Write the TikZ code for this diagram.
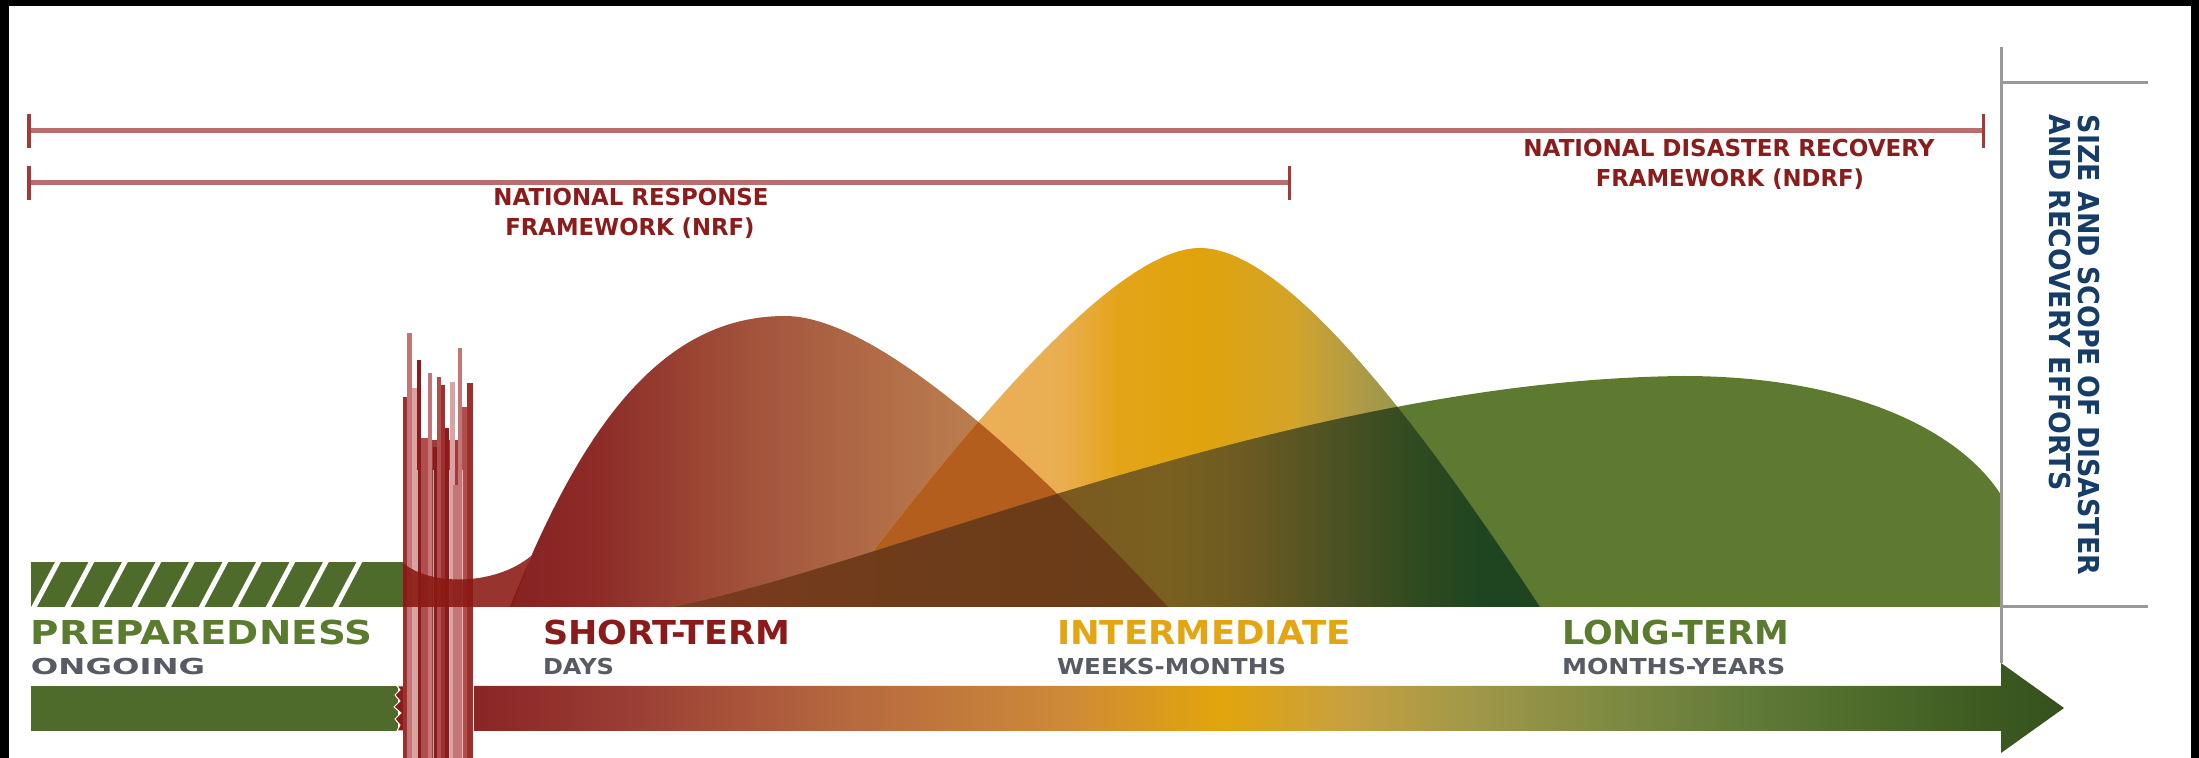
\documentclass[tikz,border=0pt]{standalone}
\usepackage{fontspec}
\usepackage{graphicx}
\setmainfont{DejaVu Sans}
\newcommand{\fitw}[2]{\resizebox{#1}{\height}{#2}}
% colours
\definecolor{hgreen}{HTML}{4E6B2B}
\definecolor{ggreen}{HTML}{5E7A30}
\definecolor{tgreen}{HTML}{5B7B2E}
\definecolor{tgray}{HTML}{575B63}
\definecolor{tred}{HTML}{8B1A1A}
\definecolor{tgold}{HTML}{E3A512}
\definecolor{bred}{HTML}{8B1C1C}
\definecolor{navy}{HTML}{163C68}
\definecolor{bpink}{HTML}{B86E6E}
\definecolor{bdark}{HTML}{A33A3A}
\definecolor{lgray}{HTML}{999999}
\definecolor{dipred}{HTML}{8A1812}
\definecolor{lens}{HTML}{B45E1D}
\definecolor{barA}{HTML}{A33A3A}
\definecolor{barB}{HTML}{9E2F2F}
\definecolor{barL}{HTML}{C47676}
\definecolor{barLL}{HTML}{D9A3A3}
\definecolor{barD}{HTML}{8C1C1C}
\definecolor{barM}{HTML}{B04E4E}
% arrow shading colours
\definecolor{a0}{HTML}{8A2525}
\definecolor{a1}{HTML}{9B3E35}
\definecolor{a2}{HTML}{B5683F}
\definecolor{a3}{HTML}{CE8A38}
\definecolor{a4}{HTML}{E2A50C}
\definecolor{a5}{HTML}{C8A040}
\definecolor{a6}{HTML}{A09848}
\definecolor{a7}{HTML}{7E8A42}
\definecolor{a8}{HTML}{607A38}
\definecolor{a9}{HTML}{4A6828}
\definecolor{a10}{HTML}{3A5820}
\definecolor{a11}{HTML}{36521C}
% red hill
\definecolor{r0}{HTML}{862222}
\definecolor{r1}{HTML}{8E2C28}
\definecolor{r2}{HTML}{9C4634}
\definecolor{r3}{HTML}{A65A40}
\definecolor{r4}{HTML}{B47048}
\definecolor{r5}{HTML}{BC8250}
\definecolor{r6}{HTML}{C49060}
% yellow hill
\definecolor{y0}{HTML}{EDB060}
\definecolor{y1}{HTML}{EAAE52}
\definecolor{y2}{HTML}{E4A418}
\definecolor{y3}{HTML}{E0A30C}
\definecolor{y4}{HTML}{D4A428}
\definecolor{y5}{HTML}{B49C44}
\definecolor{y6}{HTML}{98964C}
\definecolor{y7}{HTML}{74823E}
\definecolor{y8}{HTML}{4A6A2A}
% green over yellow
\definecolor{gy0}{HTML}{7A4A1E}
\definecolor{gy1}{HTML}{7A6020}
\definecolor{gy2}{HTML}{6A5A22}
\definecolor{gy3}{HTML}{4F5222}
\definecolor{gy4}{HTML}{2E4A20}
\definecolor{gy5}{HTML}{1F4520}
% green over red
\definecolor{gr0}{HTML}{7C2E20}
\definecolor{gr1}{HTML}{7A3A20}
\definecolor{gr2}{HTML}{6E3C1A}
\definecolor{gr3}{HTML}{6A3C18}

\pgfdeclarehorizontalshading{arrowshade}{100bp}{color(0bp)=(a0); color(25bp)=(a0); color(29.94bp)=(a1); color(36.54bp)=(a2); color(43.62bp)=(a3); color(48.46bp)=(a4); color(52.42bp)=(a5); color(56.38bp)=(a6); color(60.82bp)=(a7); color(65.22bp)=(a8); color(69.62bp)=(a9); color(73.02bp)=(a10); color(75bp)=(a11); color(100bp)=(a11)}
\pgfdeclarehorizontalshading{redshade}{100bp}{color(0bp)=(r0); color(25bp)=(r0); color(31.84bp)=(r1); color(39.44bp)=(r2); color(45.9bp)=(r3); color(54.6bp)=(r4); color(62.2bp)=(r5); color(75bp)=(r6); color(100bp)=(r6)}
\pgfdeclarehorizontalshading{yelshade}{100bp}{color(0bp)=(y0); color(25bp)=(y0); color(41.2bp)=(y1); color(45.42bp)=(y2); color(51.06bp)=(y3); color(57.39bp)=(y4); color(61.62bp)=(y5); color(65.14bp)=(y6); color(69.37bp)=(y7); color(75bp)=(y8); color(100bp)=(y8)}
\pgfdeclarehorizontalshading{gyshade}{100bp}{color(0bp)=(gy0); color(25bp)=(gy0); color(48.59bp)=(gy1); color(54.58bp)=(gy2); color(60.21bp)=(gy3); color(66.55bp)=(gy4); color(70.77bp)=(gy5); color(75bp)=(gy5); color(100bp)=(gy5)}
\pgfdeclarehorizontalshading{grshade}{100bp}{color(0bp)=(gr0); color(25bp)=(gr0); color(39.44bp)=(gr1); color(54.6bp)=(gr2); color(75bp)=(gr3); color(100bp)=(gr3)}

\def\redpath{(510,607) .. controls (580,430) and (660,316) .. (785,316) .. controls (880,316) and (1040,470) .. (1168,607) -- cycle}
\def\yelpath{(830,607) .. controls (950,450) and (1110,248) .. (1200,248) .. controls (1290,248) and (1430,440) .. (1540,607) -- cycle}
\def\grnpath{(673,607) .. controls (900,560) and (1300,380) .. (1683,376) .. controls (1850,376) and (1960,430) .. (2001,495) -- (2001,607) -- cycle}

\begin{document}
\begin{tikzpicture}[x=0.01cm,y=-0.01cm,
  lbl/.style={inner sep=0pt,outer sep=0pt,anchor=base west},
  ttl/.style={lbl,font=\bfseries\fontsize{9.37pt}{11pt}\selectfont},
  sub/.style={lbl,text=tgray,font=\bfseries\fontsize{6.25pt}{8pt}\selectfont},
  brk/.style={inner sep=0pt,outer sep=0pt,anchor=base,text=bred,font=\bfseries\fontsize{6.63pt}{8pt}\selectfont},
  vlbl/.style={inner sep=0pt,outer sep=0pt,anchor=base west,rotate=-90,text=navy,font=\bfseries\fontsize{8.2pt}{9pt}\selectfont},
  bline/.style={draw=bpink,line width=0.05cm},
  btick/.style={draw=bdark,line width=0.03cm},
  gline/.style={draw=lgray,line width=0.03cm}]

\useasboundingbox (0,0) rectangle (2199,758);
\fill[white] (0,0) rectangle (2199,758);

% ---- brackets
\coordinate (ndrfL) at (29,131);
\coordinate (ndrfR) at (1983,131);
\coordinate (nrfL) at (29,183);
\coordinate (nrfR) at (1289,183);
\draw[bline] (ndrfL) -- (ndrfR);
\draw[bline] (nrfL) -- (nrfR);
\draw[btick] ([yshift=0.17cm]ndrfL) -- ([yshift=-0.17cm]ndrfL);
\draw[btick] ([yshift=0.17cm]ndrfR) -- ([yshift=-0.17cm]ndrfR);
\draw[btick] ([yshift=0.17cm]nrfL) -- ([yshift=-0.17cm]nrfL);
\draw[btick] ([yshift=0.17cm]nrfR) -- ([yshift=-0.17cm]nrfR);

\node[brk] (ndrf1) at (1729,157) {\fitw{4.11cm}{NATIONAL DISASTER RECOVERY}};
\node[brk] (ndrf2) at (1730,187) {\fitw{2.68cm}{FRAMEWORK (NDRF)}};
\node[brk] (nrf1) at (631,206) {\fitw{2.75cm}{NATIONAL RESPONSE}};
\node[brk] (nrf2) at (630,236) {\fitw{2.49cm}{FRAMEWORK (NRF)}};

% ---- hills
\shade[shading=redshade] \redpath;
\shade[shading=yelshade] \yelpath;
\begin{scope}
  \clip \redpath;
  \fill[lens] \yelpath;
\end{scope}
\fill[ggreen] \grnpath;
\begin{scope}
  \clip \grnpath;
  \shade[shading=gyshade] \yelpath;
  \shade[shading=grshade] \redpath;
\end{scope}

% ---- hatched preparedness bar
\fill[hgreen] (31,562) rectangle (403,607);
\begin{scope}
  \clip (31,562) rectangle (403,607);
  \foreach \k in {0,...,9}
    \draw[white,line width=0.05cm] ({33+33.5*\k},609) -- ({59+33.5*\k},560);
\end{scope}

% ---- lower bars / arrow
\fill[hgreen] (31,686) rectangle (398,731);
\shade[shading=arrowshade] (474,686) -- (2001,686) -- (2001,663) -- (2064,708) -- (2001,753) -- (2001,731) -- (474,731) -- cycle;
\fill[tred,draw=white,line width=0.01cm] (397,686) -- (404,686) -- (404,731) -- (397,731) -- (400,725) -- (395,719) -- (401,713) -- (394,707) -- (400,701) -- (395,695) -- (400,690) -- cycle;

% ---- disaster spikes
\fill[barA] (403,440) rectangle (473,758);
\foreach \xa/\xb/\yt/\cc in {403/409/397/barB, 407/412/333/barL, 412/417/388/barLL, 417/421/360/barD, 421/428/438/barM, 428/432/373/barL, 433/437/447/barD, 437/441/377/barM, 441/445/385/barB, 445/449/428/barD, 450/455/382/barLL, 453/458/485/barL, 458/462/348/barL, 462/467/407/barM, 467/473/383/barB}
  \fill[\cc] (\xa,\yt) rectangle (\xb,758);
\foreach \xl in {417,433,449,462}
  \draw[white,opacity=0.6,line width=0.01cm] (\xl,470) -- (\xl,758);
\fill[dipred,opacity=0.88] (403,563) .. controls (430,586) and (495,586) .. (531,556) -- (512,607) -- (403,607) -- cycle;

% ---- phase labels
\node[ttl,text=tgreen] (prep) at (31,645) {\fitw{3.41cm}{PREPAREDNESS}};
\node[sub] (ongo) at (31,675) {\fitw{1.74cm}{ONGOING}};
\node[ttl,text=tred] (short) at (543,645) {\fitw{2.47cm}{SHORT-TERM}};
\node[sub] (days) at (543,675) {\fitw{0.71cm}{DAYS}};
\node[ttl,text=tgold] (inter) at (1057,645) {\fitw{2.94cm}{INTERMEDIATE}};
\node[sub] (weeks) at (1057,675) {\fitw{2.29cm}{WEEKS-MONTHS}};
\node[ttl,text=tgreen] (long) at (1562,645) {\fitw{2.27cm}{LONG-TERM}};
\node[sub] (monyr) at (1562,675) {\fitw{2.23cm}{MONTHS-YEARS}};

% ---- right panel
\coordinate (vtop) at (2001,47);
\coordinate (vbot) at (2001,663);
\coordinate (h1a) at (2001,83);
\coordinate (h1b) at (2148,83);
\coordinate (h2a) at (2001,607);
\coordinate (h2b) at (2148,607);
\draw[gline] (vtop) -- (vbot);
\draw[gline] (h1a) -- (h1b);
\draw[gline] (h2a) -- (h2b);
\node[vlbl] (v1) at (2078,115) {\fitw{4.60cm}{SIZE AND SCOPE OF DISASTER}};
\node[vlbl] (v2) at (2049,115) {\fitw{3.76cm}{AND RECOVERY EFFORTS}};

% ---- black frame edges
\fill[black] (0,0) rectangle (2199,6);
\fill[black] (0,0) rectangle (9,758);
\fill[black] (2191,0) rectangle (2199,758);
\end{tikzpicture}
\end{document}
